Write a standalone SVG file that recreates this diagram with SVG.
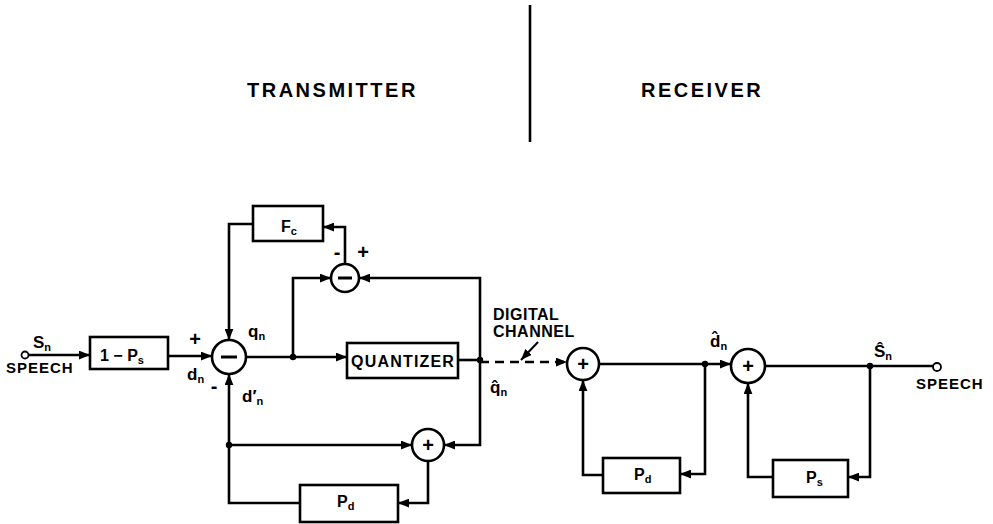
<svg xmlns="http://www.w3.org/2000/svg" width="993" height="524" viewBox="0 0 993 524">
<defs>
<style>
.bg{fill:#fff}
.box{fill:#fff;stroke:#000;stroke-width:2.6}
.sum{fill:#fff;stroke:#000;stroke-width:2.6}
.w{fill:none;stroke:#000;stroke-width:2.6;stroke-linejoin:miter}
.dash{stroke-dasharray:9 6}
.thin{fill:none;stroke:#000;stroke-width:2}
.dot{fill:#000}
.term{fill:#fff;stroke:#000;stroke-width:1.8}
text{font-family:"Liberation Sans","DejaVu Sans",sans-serif;font-weight:bold;fill:#000}
.title{font-size:20px;letter-spacing:2.5px}
.lbl{font-size:16px}
.sub{font-size:11px}
.sig{font-size:17px}
.small{font-size:15px;letter-spacing:1px}
.sign{font-size:20px;text-anchor:middle}
.in{font-size:20px;text-anchor:middle}
</style>
<marker id="ah" viewBox="0 0 10 8" refX="10" refY="4" markerWidth="11" markerHeight="9" markerUnits="userSpaceOnUse" orient="auto">
<path d="M0,0 L10,4 L0,8 z" fill="#000"/>
</marker>
</defs>
<rect class="bg" x="0" y="0" width="993" height="524"/>

<g id="divider">
<line x1="530" y1="5" x2="530" y2="142" stroke="#000" stroke-width="2.6"/>
</g>
<g id="titles">
<text class="title" x="247" y="97">TRANSMITTER</text>
<text class="title" x="641" y="97">RECEIVER</text>
</g>

<g id="connectors">
<path class="w" d="M29,355 H90" marker-end="url(#ah)"/>
<path class="w" d="M168,356 H212" marker-end="url(#ah)"/>
<path class="w" d="M246,357 H347" marker-end="url(#ah)"/>
<path class="w" d="M458,360 H480"/>
<path class="w" d="M480,360 V278 H359" marker-end="url(#ah)"/>
<path class="w" d="M480,360 V445 H444" marker-end="url(#ah)"/>
<path class="w" d="M293,357 V278 H331" marker-end="url(#ah)"/>
<path class="w" d="M345,264 V227 H323" marker-end="url(#ah)"/>
<path class="w" d="M253,224 H229 V340" marker-end="url(#ah)"/>
<path class="w" d="M229,445 H412" marker-end="url(#ah)"/>
<path class="w" d="M428,461 V503 H398" marker-end="url(#ah)"/>
<path class="w" d="M300,503 H229 V374" marker-end="url(#ah)"/>
<path class="w dash" d="M480,362 H567" marker-end="url(#ah)"/>
<path class="thin" d="M538,342 L521,360" marker-end="url(#ah)"/>
<path class="w" d="M599,364 H731" marker-end="url(#ah)"/>
<path class="w" d="M705,364 V474 H680" marker-end="url(#ah)"/>
<path class="w" d="M603,475 H583 V380" marker-end="url(#ah)"/>
<path class="w" d="M765,366 H933"/>
<path class="w" d="M870,366 V477 H848" marker-end="url(#ah)"/>
<path class="w" d="M773,477 H748 V383" marker-end="url(#ah)"/>
<circle class="dot" cx="293" cy="357" r="3.2"/>
<circle class="dot" cx="480" cy="360" r="3.2"/>
<circle class="dot" cx="229" cy="445" r="3.2"/>
<circle class="dot" cx="705" cy="364" r="3.2"/>
<circle class="dot" cx="870" cy="366" r="3.2"/>
</g>

<g id="input">
<circle class="term" cx="25" cy="355" r="3.5"/>
<text class="sig" x="33" y="348">S<tspan class="sub" dy="3">n</tspan></text>
<text class="small" x="6" y="373">SPEECH</text>
</g>

<g id="prefilter">
<rect class="box" x="90" y="337" width="78" height="32"/>
<text class="lbl" x="100" y="361">1 − P<tspan class="sub" dy="3">s</tspan></text>
</g>

<g id="sum1">
<circle class="sum" cx="229" cy="357" r="17"/>
<line x1="221" y1="357" x2="237" y2="357" stroke="#000" stroke-width="3"/>
<text class="sign" x="195" y="346">+</text>
<text class="sig" x="248" y="337">q<tspan class="sub" dy="3">n</tspan></text>
<text class="sig" x="187" y="380">d<tspan class="sub" dy="3">n</tspan></text>
<text class="sign" x="214" y="393">-</text>
<text class="sig" x="242" y="402">d′<tspan class="sub" dy="3">n</tspan></text>
</g>

<g id="fc">
<rect class="box" x="253" y="206" width="70" height="35"/>
<text class="lbl" x="281" y="232">F<tspan class="sub" dy="3">c</tspan></text>
</g>

<g id="sum2">
<circle class="sum" cx="345" cy="278" r="14"/>
<line x1="338" y1="278" x2="352" y2="278" stroke="#000" stroke-width="3"/>
<text class="sign" x="337" y="259">-</text>
<text class="sign" x="363" y="259">+</text>
</g>

<g id="quantizer">
<rect class="box" x="347" y="343" width="111" height="35"/>
<text class="lbl" x="351" y="367" style="letter-spacing:1.2px">QUANTIZER</text>
</g>

<g id="sum3">
<circle class="sum" cx="428" cy="445" r="16"/>
<text class="in" x="428" y="452">+</text>
</g>

<g id="pd_tx">
<rect class="box" x="300" y="485" width="98" height="37"/>
<text class="lbl" x="337" y="507">P<tspan class="sub" dy="3">d</tspan></text>
</g>

<g id="channel">
<text class="lbl" x="493" y="320" style="letter-spacing:0.5px">DIGITAL</text>
<text class="lbl" x="493" y="337" style="letter-spacing:0.5px">CHANNEL</text>
<text class="sig" x="490" y="393">q&#x302;<tspan class="sub" dy="3">n</tspan></text>
</g>

<g id="sum4">
<circle class="sum" cx="583" cy="364" r="16"/>
<text class="in" x="583" y="371">+</text>
</g>

<g id="pd_rx">
<rect class="box" x="603" y="458" width="77" height="35"/>
<text class="lbl" x="634" y="480">P<tspan class="sub" dy="3">d</tspan></text>
</g>

<g id="dhat">
<text class="sig" x="710" y="347">d&#x302;<tspan class="sub" dy="3">n</tspan></text>
</g>

<g id="sum5">
<circle class="sum" cx="748" cy="366" r="17"/>
<text class="in" x="748" y="373">+</text>
</g>

<g id="ps_rx">
<rect class="box" x="773" y="460" width="75" height="37"/>
<text class="lbl" x="806" y="483">P<tspan class="sub" dy="3">s</tspan></text>
</g>

<g id="output">
<text class="sig" x="874" y="357">Ŝ<tspan class="sub" dy="3">n</tspan></text>
<circle class="term" cx="937" cy="367" r="4"/>
<text class="small" x="916" y="389">SPEECH</text>
</g>
</svg>
